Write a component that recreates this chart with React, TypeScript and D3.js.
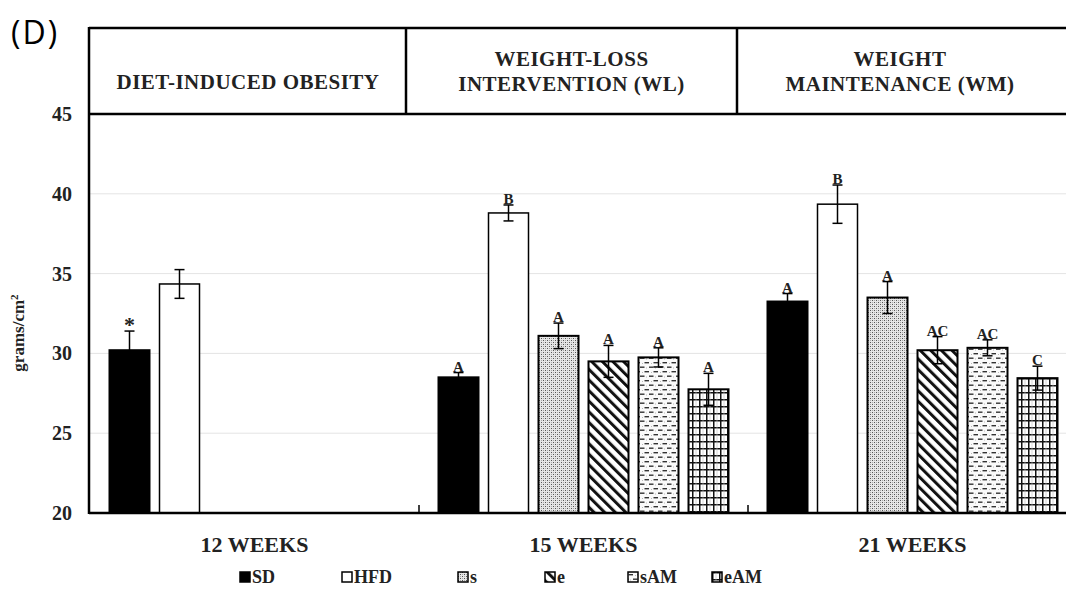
import React from "react";
import * as d3 from "d3";

const groups = ["12 WEEKS", "15 WEEKS", "21 WEEKS"];
const series = ["SD", "HFD", "s", "e", "sAM", "eAM"];
const values12 = [30.2, 34.35];
const values15 = [28.5, 38.8, 31.1, 29.5, 29.75, 27.75];
const values21 = [33.25, 39.35, 33.5, 30.2, 30.35, 28.45];
const err12 = [1.2, 0.9];
const err15 = [0.3, 0.5, 0.8, 1.0, 0.6, 1.0];
const err21 = [0.5, 1.2, 1.0, 0.85, 0.5, 0.75];
const labels12 = ["*", ""];
const labels15 = ["A", "B", "A", "A", "A", "A"];
const labels21 = ["A", "B", "A", "AC", "AC", "C"];
const yTicks = [20, 25, 30, 35, 40, 45];
const headers = [["DIET-INDUCED OBESITY"], ["WEIGHT-LOSS", "INTERVENTION (WL)"], ["WEIGHT", "MAINTENANCE (WM)"]];
const headerDividers = [406, 737];

const W = 1066, H = 594;
const serifStyle = { fontFamily: "Liberation Serif, Times New Roman, Times, DejaVu Serif, serif", fontWeight: 700 } as const;

const fills: Record<string, string> = {
  SD: "#000",
  HFD: "#fff",
  s: "url(#pat-s)",
  e: "url(#pat-e)",
  sAM: "url(#pat-sam)",
  eAM: "url(#pat-eam)",
};

export default function App() {
  const left = 90, top = 114, bottom = 513, headerTop = 28;
  const y = d3.scaleLinear().domain([20, 45]).range([bottom, top]);
  const x0 = d3.scaleBand<string>().domain(groups).range([left, 1077]).paddingInner(0).paddingOuter(0);
  const x1 = d3.scaleBand<string>().domain(series).range([0, x0.bandwidth()]).paddingInner(0.2).paddingOuter(0.39);

  const data = [
    { g: groups[0], vals: values12, errs: err12, labs: labels12 },
    { g: groups[1], vals: values15, errs: err15, labs: labels15 },
    { g: groups[2], vals: values21, errs: err21, labs: labels21 },
  ];

  const legendX = [240, 342, 458, 545, 628, 712];

  return (
    <svg width={W} height={H} style={{ position: "absolute", left: 0, top: 0, background: "#fff" }}>
      <defs>
        <pattern id="pat-s" width="4" height="4" patternUnits="userSpaceOnUse">
          <rect width="4" height="4" fill="#e6e6e6" />
          <rect x="0" y="0" width="1" height="1" fill="#555" />
          <rect x="2" y="2" width="1" height="1" fill="#555" />
          <rect x="2" y="0" width="1" height="1" fill="#aaa" />
          <rect x="0" y="2" width="1" height="1" fill="#aaa" />
        </pattern>
        <pattern id="pat-e" width="7.5" height="7.5" patternUnits="userSpaceOnUse" patternTransform="rotate(-45)">
          <rect width="7.5" height="7.5" fill="#fff" />
          <line x1="1.5" y1="0" x2="1.5" y2="7.5" stroke="#111" strokeWidth="3" />
        </pattern>
        <pattern id="pat-sam" width="9" height="9" patternUnits="userSpaceOnUse">
          <rect width="9" height="9" fill="#fafafa" />
          <rect x="0.5" y="2" width="4.5" height="1.4" fill="#333" />
          <rect x="5" y="6.5" width="4" height="1.4" fill="#333" />
          <rect x="0" y="6.5" width="0.5" height="1.4" fill="#333" />
          <rect x="7" y="3" width="1" height="1" fill="#bbb" />
          <rect x="2" y="7.5" width="1" height="1" fill="#bbb" />
        </pattern>
        <pattern id="pat-eam" width="7" height="7" patternUnits="userSpaceOnUse">
          <rect width="7" height="7" fill="#fff" />
          <line x1="0.75" y1="0" x2="0.75" y2="7" stroke="#111" strokeWidth="1.5" />
          <line x1="0" y1="0.75" x2="7" y2="0.75" stroke="#111" strokeWidth="1.5" />
          <line x1="4" y1="0" x2="4" y2="7" stroke="#bbb" strokeWidth="0.6" />
        </pattern>
      </defs>

      <text x={11} y={44} style={{ fontFamily: "Open Sans, Noto Sans, sans-serif", letterSpacing: 2 }} fontSize={32} fill="#000">(D)</text>

      {/* gridlines */}
      {yTicks.filter(t => t > 20 && t < 45).map(t => (
        <line key={t} x1={left} x2={W} y1={y(t)} y2={y(t)} stroke="#e4e4e4" strokeWidth={1} />
      ))}

      {/* y tick labels */}
      {yTicks.map(t => (
        <text key={t} x={72} y={y(t)} dy="0.35em" textAnchor="end" style={serifStyle} fontSize={20} fill="#222">{t}</text>
      ))}
      <text transform={`translate(24,${333}) rotate(-90)`} textAnchor="middle" style={serifStyle} fontSize={17} fill="#222">
        grams/cm<tspan dy="-6" fontSize={11}>2</tspan>
      </text>

      {/* bars */}
      {data.map(d => (
        <g key={d.g} transform={`translate(${x0(d.g)},0)`}>
          {d.vals.map((v, i) => {
            const s = series[i];
            const bx = x1(s)!;
            const bw = x1.bandwidth();
            const e = d.errs[i];
            const cx = bx + bw / 2;
            const lab = d.labs[i];
            return (
              <g key={s}>
                <rect x={bx} y={y(v)} width={bw} height={bottom - y(v)} fill={fills[s]} stroke="#000" strokeWidth={s === "HFD" ? 1.5 : 2} />
                <line x1={cx} x2={cx} y1={y(v + e)} y2={y(v - e)} stroke="#000" strokeWidth={1.5} />
                <line x1={cx - 5} x2={cx + 5} y1={y(v + e)} y2={y(v + e)} stroke="#000" strokeWidth={1.5} />
                <line x1={cx - 5} x2={cx + 5} y1={y(v - e)} y2={y(v - e)} stroke="#000" strokeWidth={1.5} />
                {lab && (
                  <text x={cx} y={y(v + e) + (lab === "*" ? 1 : -1)} textAnchor="middle" style={serifStyle} fontSize={lab === "*" ? 22 : 15} fill="#222">{lab}</text>
                )}
              </g>
            );
          })}
        </g>
      ))}

      {/* header table */}
      <line x1={left - 1} x2={W} y1={headerTop} y2={headerTop} stroke="#000" strokeWidth={2.5} />
      <line x1={left - 1} x2={W} y1={top} y2={top} stroke="#000" strokeWidth={2.5} />
      {headerDividers.map(hx => (
        <line key={hx} x1={hx} x2={hx} y1={headerTop} y2={top} stroke="#000" strokeWidth={2.5} />
      ))}
      {headers.map((lines, i) => {
        const x0h = i === 0 ? left : headerDividers[i - 1];
        const x1h = i === 2 ? W : headerDividers[i];
        const cx = i === 2 ? 900 : (x0h + x1h) / 2;
        return (
          <text key={i} textAnchor="middle" style={{ ...serifStyle, letterSpacing: 0.5 }} fontSize={21} fill="#222">
            {lines.length === 1 ? (
              <tspan x={cx} y={89}>{lines[0]}</tspan>
            ) : (
              lines.map((l, j) => <tspan key={j} x={cx} y={66 + j * 25}>{l}</tspan>)
            )}
          </text>
        );
      })}

      {/* axes */}
      <line x1={left - 1} x2={left - 1} y1={headerTop - 1} y2={bottom + 1} stroke="#000" strokeWidth={2.5} />
      <line x1={left - 1} x2={W} y1={bottom} y2={bottom} stroke="#000" strokeWidth={2.5} />
      {groups.slice(1).map(g => (
        <line key={g} x1={x0(g)!} x2={x0(g)!} y1={bottom - 8} y2={bottom} stroke="#000" strokeWidth={1.5} />
      ))}
      {groups.map(g => (
        <text key={g} x={x0(g)! + x0.bandwidth() / 2} y={552} textAnchor="middle" style={serifStyle} fontSize={22} fill="#222">{g}</text>
      ))}

      {/* legend */}
      {series.map((s, i) => (
        <g key={s} transform={`translate(${legendX[i]},572)`}>
          <rect x={0} y={0} width={10} height={10} fill={fills[s]} stroke="#000" strokeWidth={1.5} />
          <text x={12} y={11} style={serifStyle} fontSize={18} fill="#222">{s}</text>
        </g>
      ))}
    </svg>
  );
}
